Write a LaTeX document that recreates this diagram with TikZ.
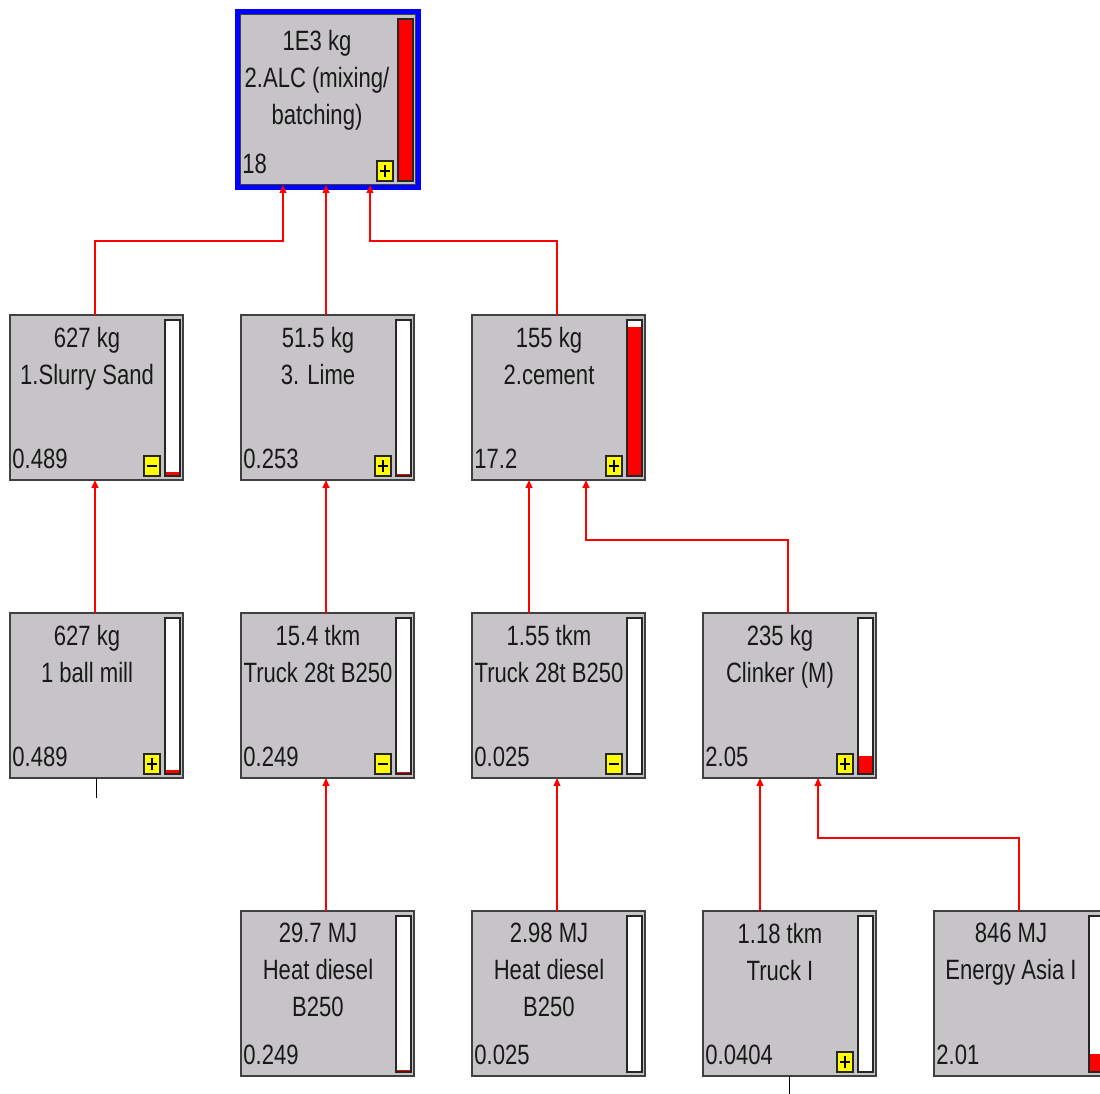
\documentclass[tikz,border=0pt]{standalone}
\usepackage{fontspec}
\setmainfont[FakeStretch=0.79]{Liberation Sans}
\usepackage{tikz}
\usetikzlibrary{arrows.meta,calc}
\definecolor{boxgray}{RGB}{199,196,200}
\definecolor{selblue}{RGB}{0,0,255}
\definecolor{flowred}{RGB}{255,0,0}
\definecolor{signyellow}{RGB}{255,255,0}

\def\txtdy{12}
% process box: [style] name, x, y, text, value, bar fraction, sign (0 none, 1 plus, 2 minus)
\newcommand\procbox[8][]{%
  \node[pbox,#1] (#2) at (#3,#4) {};
  \node[ptxt] at ($(#2.north west)+(77,\txtdy)$) {#5};
  \node[pval] at ($(#2.south west)+(2,-11)$) {#6};
  \coordinate (#2-bl) at ($(#2.south east)+(-18,-4)$);
  \coordinate (#2-tr) at ($(#2.north east)+(-3,5)$);
  \coordinate (#2-lv) at ($(#2-bl)!#7!(#2-tr)$);
  \coordinate (#2-out) at ($(#2.north west)+(85,0)$);
  \fill[white] (#2-bl) rectangle (#2-tr);
  \fill[flowred] (#2-bl) rectangle (#2-lv -| #2-tr);
  \draw[bar] (#2-bl) rectangle (#2-tr);
  \ifnum#8>0
    \draw[sign] ($(#2.south east)+(-39,-4)$) rectangle ($(#2.south east)+(-23,-24)$);
    \draw[signline] ($(#2.south east)+(-36,-14)$) -- ($(#2.south east)+(-26,-14)$);
  \fi
  \ifnum#8=1
    \draw[signline] ($(#2.south east)+(-31,-8)$) -- ($(#2.south east)+(-31,-20)$);
  \fi
}

\begin{document}
\begin{tikzpicture}[x=0.02cm,y=-0.02cm,
  pbox/.style={rectangle,draw=black!75,line width=1.1pt,fill=boxgray,anchor=north west,
    minimum width=3.46cm,minimum height=3.3cm,inner sep=0pt,outer sep=0pt},
  ptxt/.style={font=\fontsize{15.9}{21}\selectfont,text=black!90,align=center,anchor=north,inner sep=0pt},
  pval/.style={font=\fontsize{15.9}{21}\selectfont,text=black!90,anchor=base west,inner sep=0pt},
  bar/.style={draw=black!85,line width=1pt},
  sign/.style={draw=black!85,fill=signyellow,line width=0.8pt},
  signline/.style={black,line width=1.1pt},
  link/.style={-{Triangle[length=4.5pt,width=3.8pt]},flowred,line width=1pt},
  stub/.style={black,line width=0.8pt}]
\useasboundingbox (0,0) rectangle (1100,1094);
\clip (0,0) rectangle (1100,1094);
\fill[white] (0,0) rectangle (1100,1094);
% --- top: selected process ---
\def\txtdy{16}
\procbox[minimum width=3.52cm,minimum height=3.42cm]{alc}{240}{14}{1E3 kg\\2.ALC (mixing/\\batching)}{18}{1}{1}
\draw[selblue,line width=0.1cm] ($(alc.north west)+(-2.5,-2.5)$) rectangle ($(alc.south east)+(2.5,2.5)$);
\def\txtdy{12}
% --- second row ---
\procbox{slurry}{10}{315}{627 kg\\1.Slurry Sand}{0.489}{0.027}{2}
\procbox{lime}{241}{315}{51.5 kg\\3. Lime}{0.253}{0.014}{1}
\procbox{cement}{472}{315}{155 kg\\2.cement}{17.2}{0.955}{1}
% --- third row ---
\procbox{ballmill}{10}{613}{627 kg\\1 ball mill}{0.489}{0.027}{1}
\procbox{truckA}{241}{613}{15.4 tkm\\Truck 28t B250}{0.249}{0.014}{2}
\procbox{truckB}{472}{613}{1.55 tkm\\Truck 28t B250}{0.025}{0.0014}{2}
\procbox{clinker}{703}{613}{235 kg\\Clinker (M)}{2.05}{0.114}{1}
% --- fourth row ---
\procbox{dieselA}{241}{911}{29.7 MJ\\Heat diesel\\B250}{0.249}{0.014}{0}
\procbox{dieselB}{472}{911}{2.98 MJ\\Heat diesel\\B250}{0.025}{0.0014}{0}
\procbox{truckI}{703}{911}{1.18 tkm\\Truck I}{0.0404}{0.0022}{1}
\procbox{energy}{934}{911}{846 MJ\\Energy Asia I}{2.01}{0.112}{0}
% --- flows ---
\draw[link] (slurry-out) |- ($(alc.south west)+(43,56)$) -- ($(alc.south west)+(43,0)$);
\draw[link] (lime-out) -- (lime-out |- alc.south);
\draw[link] (cement-out) |- ($(alc.south west)+(130,56)$) -- ($(alc.south west)+(130,0)$);
\draw[link] (ballmill-out) -- (ballmill-out |- slurry.south);
\draw[link] (truckA-out) -- (truckA-out |- lime.south);
\draw[link] ($(truckB.north west)+(57,0)$) -- ($(cement.south west)+(57,0)$);
\draw[link] (clinker-out) |- ($(cement.south west)+(114,60)$) -- ($(cement.south west)+(114,0)$);
\draw[link] (dieselA-out) -- (dieselA-out |- truckA.south);
\draw[link] (dieselB-out) -- (dieselB-out |- truckB.south);
\draw[link] ($(truckI.north west)+(57,0)$) -- ($(clinker.south west)+(57,0)$);
\draw[link] (energy-out) |- ($(clinker.south west)+(115,60)$) -- ($(clinker.south west)+(115,0)$);
\draw[stub] (ballmill.south) -- ++(0,20);
\draw[stub] (truckI.south) -- ++(0,20);
\end{tikzpicture}
\end{document}
